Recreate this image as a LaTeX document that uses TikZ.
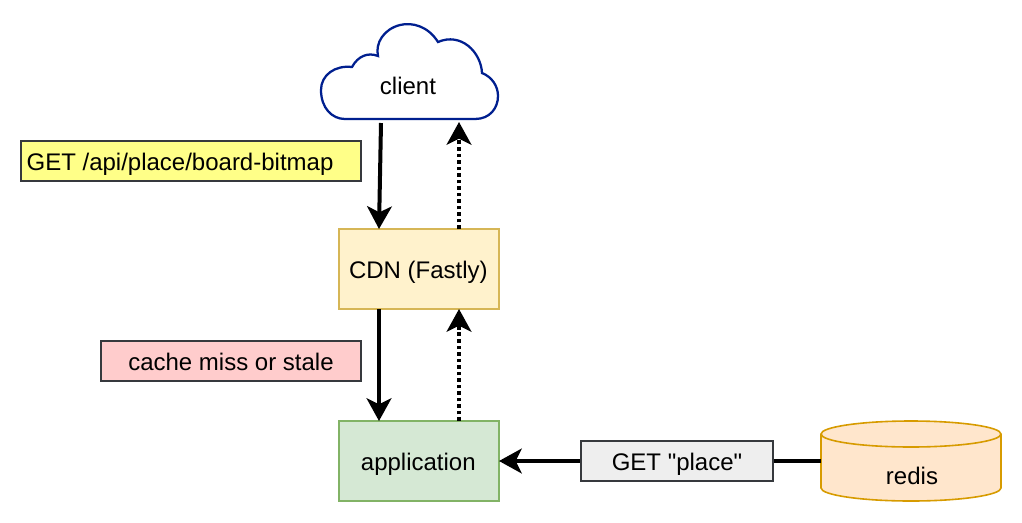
\documentclass[tikz,border=0pt]{standalone}
\usepackage{fontspec}
\newfontfamily\labelfont{Liberation Sans}
\usetikzlibrary{arrows.meta,calc}
\definecolor{cloudline}{HTML}{001F8F}
\definecolor{tagline}{HTML}{36393D}
\definecolor{cdnline}{HTML}{D6B656}
\definecolor{cdnfill}{HTML}{FFF2CC}
\definecolor{appline}{HTML}{82B366}
\definecolor{appfill}{HTML}{D5E8D4}
\definecolor{redisline}{HTML}{D79B00}
\definecolor{redisfill}{HTML}{FFE6CC}
\definecolor{tagyellow}{HTML}{FFFF88}
\definecolor{tagpink}{HTML}{FFCCCC}
\definecolor{taggrey}{HTML}{EEEEEE}
\tikzset{
  px/.style={x=0.75pt,y=-0.75pt},
  lbl/.style={font=\labelfont\fontsize{18}{21}\selectfont,text=black},
  box/.style={lbl,draw,line width=1.2pt,inner sep=0pt,outer sep=0pt,minimum width=120pt,minimum height=60pt,text height=15pt,text depth=1.5pt},
  tag/.style={lbl,draw=tagline,line width=1.2pt,inner sep=0pt,outer sep=0pt,minimum height=30pt,text height=15pt,text depth=1.5pt},
  flow/.style={line width=3pt,-{Stealth[length=17pt,width=18.5pt,inset=4.5pt]}},
  back/.style={flow,dash pattern=on 2.7pt off 2.2pt},
}
\begin{document}
\begin{tikzpicture}[px]
  \useasboundingbox (0,0) rectangle (1022,522);

  % cloud outline
  \draw[cloudline,line width=1.7pt,fill=white]
    (345,119) -- (475,119)
    .. controls (490,119) and (498,108) .. (498,96)
    .. controls (498,86) and (492,77) .. (482,73)
    .. controls (481,52) and (461,32) .. (438,42)
    .. controls (428,26) and (412,22) .. (400,25)
    .. controls (384,29) and (375,43) .. (378,56)
    .. controls (368,52) and (358,56) .. (352,67)
    .. controls (335,65) and (321,75) .. (321,90)
    .. controls (321,108) and (332,119) .. (345,119) -- cycle;
  \node[lbl] (client) at (408,86) {client};
  \coordinate (clientOut) at (381,123);
  \coordinate (clientIn) at (459,122);

  % cache and application tiers
  \node[box,draw=cdnline,fill=cdnfill] (cdn) at (419,269) {\hspace*{-1pt}CDN (Fastly)};
  \node[box,draw=appline,fill=appfill] (app) at (419,461) {\hspace*{-1pt}application};

  % redis cylinder
  \draw[redisline,line width=1.2pt,fill=redisfill]
    (821,434) -- (821,488)
    .. controls (821,495) and (861,501) .. (911,501)
    .. controls (961,501) and (1001,495) .. (1001,488)
    -- (1001,434)
    .. controls (1001,427) and (961,421) .. (911,421)
    .. controls (861,421) and (821,427) .. (821,434) -- cycle;
  \draw[redisline,line width=1.2pt]
    (821,434) .. controls (821,441) and (861,447) .. (911,447)
    .. controls (961,447) and (1001,441) .. (1001,434);
  \node[lbl] (redis) at (912,476) {redis};
  \coordinate (redisW) at (821,461);

  % connectors
  \draw[flow] (clientOut) -- ($(cdn.north west)+(40,0)$);
  \draw[back] ($(cdn.north west)+(120,0)$) -- (clientIn);
  \draw[flow] ($(cdn.south west)+(40,0)$) -- ($(app.north west)+(40,0)$);
  \draw[back] ($(app.north west)+(120,0)$) -- ($(cdn.south west)+(120,0)$);
  \draw[flow] (redisW) -- (app.east);

  % request labels
  \node[tag,fill=tagyellow,minimum width=255pt] (reqTag) at (191,161) {GET /api/place/board-bitmap\hspace*{16.5pt}};
  \node[tag,fill=tagpink,minimum width=195pt] (missTag) at (231,361) {cache miss or stale};
  \node[tag,fill=taggrey,minimum width=144pt] (getTag) at (677,461) {GET "place"};
\end{tikzpicture}
\end{document}
